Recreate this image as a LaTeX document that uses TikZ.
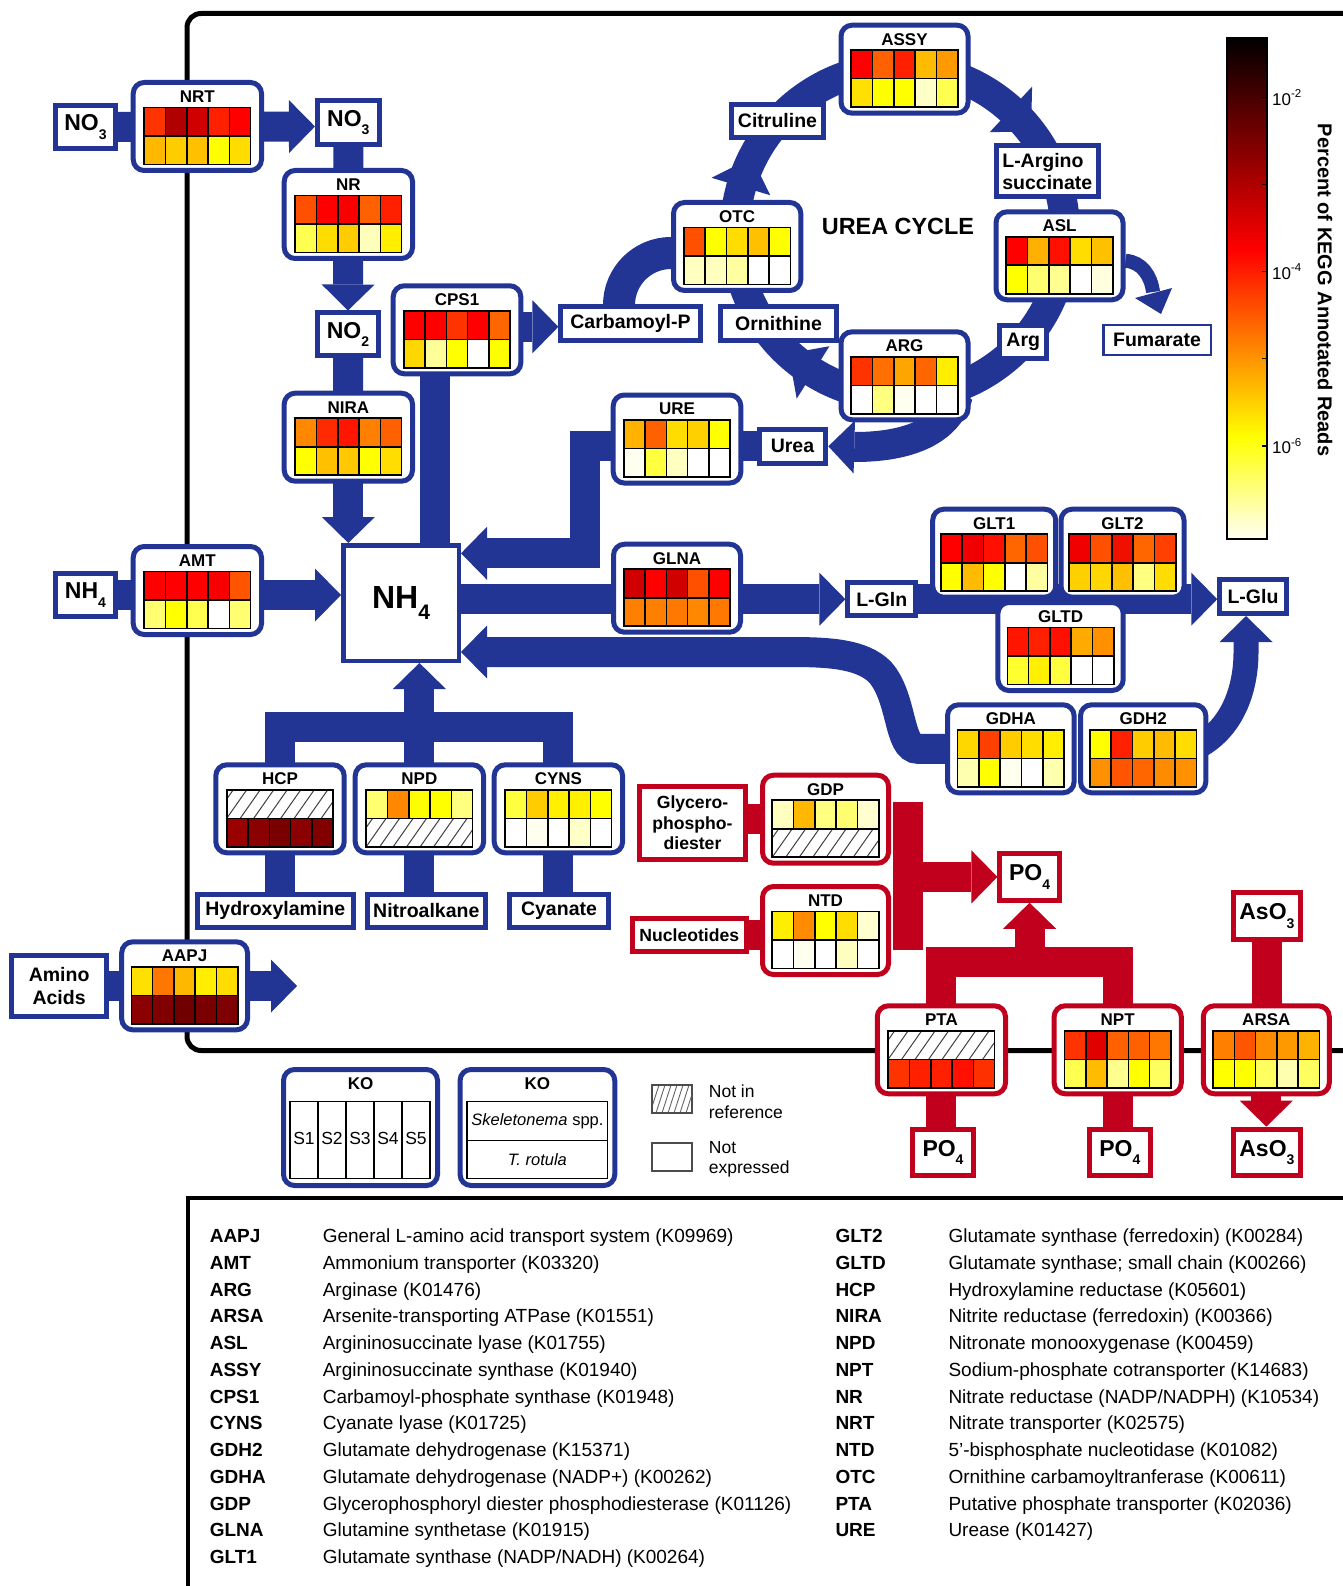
\documentclass[tikz,border=0pt]{standalone}
\usepackage{fontspec}
\setmainfont{Liberation Sans}
\usetikzlibrary{calc,arrows.meta}
\pgfdeclarelayer{bg}
\pgfsetlayers{bg,main}
\definecolor{kblue}{HTML}{223494}
\definecolor{kred}{HTML}{C0001C}
\newcommand{\kfT}{\fontsize{17}{19}\selectfont\bfseries}
\newcommand{\kfS}{\fontsize{19.5}{22.7}\selectfont\bfseries}
\newcommand{\kfM}{\fontsize{23}{25}\selectfont\bfseries}
\newcommand{\kfH}{\fontsize{32}{34}\selectfont\bfseries}
\newcommand{\kfR}{\fontsize{17.6}{20.7}\selectfont\bfseries}
\newcommand{\kfX}{\fontsize{19}{22}\selectfont}
\newcommand{\kfL}{\fontsize{17.5}{20.6}\selectfont}
\newcommand{\kfC}{\fontsize{17}{19}\selectfont}
\newcommand{\ksub}[2][14]{\raisebox{-0.36em}{\fontsize{#1}{#1}\selectfont #2}}
\newcommand{\ksup}[1]{\raisebox{0.45em}{\fontsize{11.5}{11.5}\selectfont #1}}
\def\hatchword{hatch}
\newcommand{\gridrow}[3]{%
  \def\rowspec{#3}%
  \ifx\rowspec\hatchword
    \begin{scope}
      \clip ({#1},{#2}) rectangle ++(106.5,28.5);
      \foreach \kk in {-2,...,8} {\draw[hatchline] ({#1+\kk*13.5},{#2+28.5}) -- ++(20,-28.5);}
    \end{scope}
  \else
    \foreach \cl [count=\ii from 0] in {#3} {%
      \edef\tmpc{\noexpand\definecolor{cc}{HTML}{\cl}}\tmpc
      \fill[cc] ({#1+\ii*21.3},{#2}) rectangle ++(21.3,28.5);
    }%
    \foreach \ii in {1,...,4} {\draw[gridline] ({#1+\ii*21.3},{#2}) -- ++(0,28.5);}%
  \fi
  \draw[gridline] ({#1},{#2}) rectangle ++(106.5,28.5);
}
\newcommand{\enzbox}[8]{%
  \node[ebox, draw=#8, minimum width={#5-5}, minimum height=88] (#1) at ({#3+#5/2},{#4+46.5}) {};
  \node[etitle] (#1t) at ({#3+#5/2},{#4+16.5}) {#2};
  \gridrow{#3+#5/2-53.25}{#4+27.5}{#6}%
  \gridrow{#3+#5/2-53.25}{#4+56}{#7}%
}
\newcommand{\trow}[5]{%
  \node[tabb] (#1a) at (#2,{1242.5+#3*26.75}) {#4};
  \node[tdesc] (#1d) at ({#2+113},{1242.5+#3*26.75}) {#5};
}
\begin{document}
\begin{tikzpicture}[x=1pt,y=-1pt,
  ebox/.style={rectangle, rounded corners=11pt, line width=5pt, fill=white, inner sep=0pt},
  etitle/.style={font=\kfT, inner sep=0pt},
  sbox/.style={rectangle, line width=5pt, fill=white, inner sep=0pt, font=\kfS, align=center},
  gridline/.style={line width=1.6pt, black},
  hatchline/.style={line width=1pt, black!75},
  bband/.style={draw=kblue, line width=30pt},
  rband/.style={draw=kred, line width=30pt},
  ahead/.style={-{Triangle[width=53pt,length=26pt,line width=0pt]}},
  tabb/.style={font=\kfX\bfseries, anchor=base west, inner sep=0pt},
  tdesc/.style={font=\kfX, anchor=base west, inner sep=0pt}]
\useasboundingbox (0,0) rectangle (1342,1586);

% ---------- enzyme boxes ----------
\enzbox{NRT}{NRT}{130.7}{80}{133.3}{FF3300,B00000,D00000,FF2000,FF0000}{FFB800,FFCC00,FFC000,FFFF00,FFDD00}{kblue}
\enzbox{NR}{NR}{281.7}{168}{133.3}{FF5000,FF0000,F80000,FF6000,FF2000}{FFFF50,FFDD00,FFCC00,FFFFBB,FFEE00}{kblue}
\enzbox{CPS1}{CPS1}{390.7}{283.3}{132.6}{FF0000,FF0000,FF3300,FF0000,FF6600}{FFD700,FFFF99,FFFF00,FFFFFF,FFFF00}{kblue}
\enzbox{NIRA}{NIRA}{281.7}{390.7}{133.3}{FF8800,FF2A00,FF1500,FF8000,FF6000}{FFFF00,FFC000,FFC800,FFFF00,FFDD00}{kblue}
\enzbox{AMT}{AMT}{130.7}{544}{133.3}{FF0000,FF0000,FF0000,F80000,FF5500}{FFFF70,FFFF00,FFFF50,FFFFFF,FFFF70}{kblue}
\enzbox{URE}{URE}{610.7}{392.5}{132.6}{FFB300,FF6000,FFDD00,FFD000,FFFF00}{FFFFF0,FFFF40,FFFFC0,FFFFFF,FFFFFF}{kblue}
\enzbox{GLNA}{GLNA}{611}{541.7}{132}{D00000,FF0000,D00000,FF5000,FF0000}{FF8000,FF8000,FF7800,FF8800,FF7800}{kblue}
\enzbox{ASSY}{ASSY}{838.5}{22.7}{132}{FF0000,FF6000,FF2000,FFBB00,FF9900}{FFE000,FFFF00,FFFF00,FFFFC8,FFFF50}{kblue}
\enzbox{OTC}{OTC}{671}{200}{132.3}{FF5000,FFFF00,FFDD00,FFC000,FFFF00}{FFFFC0,FFFFC0,FFFFA0,FFFFFF,FFFFFF}{kblue}
\enzbox{ASL}{ASL}{993.5}{209.3}{132}{FF0000,FFB000,FF1000,FFDD00,FFC000}{FFFF00,FFFF70,FFFF90,FFFFFF,FFFFE0}{kblue}
\enzbox{ARG}{ARG}{838.5}{329.3}{132}{FF3300,FF7000,FFA500,FF6600,FFEE00}{FFFFFF,FFFF80,FFFFF0,FFFFFF,FFFFFF}{kblue}
\enzbox{GLT1}{GLT1}{930.2}{506.7}{128}{FF0000,F00000,FF1000,FF6600,FF5000}{FFFF00,FFBB00,FFFF00,FFFFFF,FFFFA0}{kblue}
\enzbox{GLT2}{GLT2}{1058.5}{506.7}{128}{F00000,FF5000,F01000,FF6600,FF4000}{FFD000,FFD700,FFC000,FFFF80,FFDD00}{kblue}
\enzbox{GLTD}{GLTD}{995.4}{600}{130.3}{FF1500,FF2000,FF1000,FFAA00,FF9000}{FFFF30,FFF000,FFFF40,FFFFFF,FFFFFF}{kblue}
\enzbox{GDHA}{GDHA}{945}{702.3}{131.6}{FFD700,FF4000,FFCC00,FFDD00,FFEE00}{FFFFB0,FFFF00,FFFFF0,FFFFFF,FFFFB0}{kblue}
\enzbox{GDH2}{GDH2}{1078}{702.3}{130.3}{FFFF00,FF2000,FFCC00,FFBB00,FFDD00}{FF9000,FF5500,FF6600,FF8C00,FF9000}{kblue}
\enzbox{HCP}{HCP}{213.3}{762.3}{133.4}{hatch}{990000,8B0000,7A0000,8B0000,800000}{kblue}
\enzbox{NPD}{NPD}{352.7}{762.3}{133.4}{FFFF70,FF8800,FFFF00,FFFF00,FFFF80}{hatch}{kblue}
\enzbox{CYNS}{CYNS}{491.7}{762.3}{133.4}{FFFF40,FFCC00,FFF000,FFF000,FFFF00}{FFFFFF,FFFFF0,FFFFFF,FFFFC8,FFFFFF}{kblue}
\enzbox{AAPJ}{AAPJ}{119.2}{939.3}{130.8}{FFE000,FF7700,FFB800,FFEE00,FFDD00}{8B0000,800000,700000,7A0000,7F0000}{kblue}
\enzbox{GDP}{GDP}{760}{772.7}{131}{FFFFC0,FFB800,FFFF80,FFFF70,FFFFD0}{hatch}{kred}
\enzbox{NTD}{NTD}{760}{884}{131}{FFEE00,FF8C00,FFFF00,FFDD00,FFFFD0}{FFFFFF,FFFFF0,FFFFFF,FFFFC0,FFFFFF}{kred}
\enzbox{PTA}{PTA}{874.8}{1003.3}{133.2}{hatch}{FF3300,FF2000,FF2000,FF1000,FF3000}{kred}
\enzbox{NPT}{NPT}{1051.6}{1003.3}{132.2}{FF3300,E00000,FF6000,FF6000,FF7700}{FFFF50,FFBB00,FFFF90,FFFF00,FFFF60}{kred}
\enzbox{ARSA}{ARSA}{1200.8}{1003.3}{131}{FF8000,FF5500,FF8C00,FF9900,FFB300}{FFFF00,FFFF00,FFFF60,FFFFB0,FFFF60}{kred}

% ---------- substrate boxes ----------
\node[sbox, draw=kblue, font=\kfM, minimum width=60, minimum height=43] (no3a) at (85.5,127) {NO\ksub{3}};
\node[sbox, draw=kblue, font=\kfM, minimum width=61.7, minimum height=43.7] (no3b) at (348.3,122.3) {NO\ksub{3}};
\node[sbox, draw=kblue, font=\kfM, minimum width=61, minimum height=42.8] (no2) at (348,334.4) {NO\ksub{2}};
\node[sbox, draw=kblue, font=\kfM, minimum width=60.6, minimum height=43.6] (nh4a) at (85.5,595) {NH\ksub{4}};
\node[sbox, draw=kblue, line width=4.5pt, font=\kfH, minimum width=115.5, minimum height=115.5] (nh4) at (401,603) {NH\ksub[21]{4}};
\node[sbox, draw=kblue, minimum width=139.2, minimum height=33.7] (carbp) at (630.5,323.3) {Carbamoyl-P};
\node[sbox, draw=kblue, minimum width=116, minimum height=33.7] (orn) at (778.5,323.3) {Ornithine};
\node[sbox, draw=kblue, minimum width=92.6, minimum height=33.3] (citr) at (777.5,120.8) {Citruline};
\node[sbox, draw=kblue, align=left, minimum width=102.5, minimum height=51.2] (largs) at (1047.3,171.4) {L-Argino\\succinate};
\node[sbox, draw=kblue, minimum width=46.7, minimum height=32.4] (argm) at (1023.2,342) {Arg};
\node[sbox, draw=kblue, line width=2.5pt, minimum width=107.5, minimum height=30] (fum) at (1157,339.8) {Fumarate};
\node[sbox, draw=kblue, minimum width=66.6, minimum height=34.3] (urea) at (792.5,446.3) {Urea};
\node[sbox, draw=kblue, minimum width=67.6, minimum height=33.3] (lgln) at (881.7,599.2) {L-Gln};
\node[sbox, draw=kblue, minimum width=66.5, minimum height=33.7] (lglu) at (1253,596.7) {L-Glu};
\node[sbox, draw=kblue, minimum width=155.7, minimum height=33.3] (hyd) at (275.3,910.9) {Hydroxylamine};
\node[sbox, draw=kblue, minimum width=117.7, minimum height=33.3] (nitro) at (426.3,910.9) {Nitroalkane};
\node[sbox, draw=kblue, minimum width=98.4, minimum height=33.3] (cyan) at (559,910.9) {Cyanate};
\node[sbox, draw=kblue, minimum width=94.4, minimum height=61.6] (amino) at (59.1,986) {Amino\\Acids};
\node[sbox, draw=kred, font=\kfR, minimum width=105.2, minimum height=72.7] (glyc) at (692.5,822.9) {Glycero-\\phospho-\\diester};
\node[sbox, draw=kred, font=\kfR, minimum width=113.6, minimum height=33.3] (nucl) at (689.3,935.2) {Nucleotides};
\node[sbox, draw=kred, font=\kfM, minimum width=59.3, minimum height=46.7] (po4) at (1029.6,876.9) {PO\ksub{4}};
\node[sbox, draw=kred, font=\kfM, minimum width=60.6, minimum height=46.6] (po4a) at (943,1152.5) {PO\ksub{4}};
\node[sbox, draw=kred, font=\kfM, minimum width=60.6, minimum height=46.6] (po4b) at (1119.8,1152.5) {PO\ksub{4}};
\node[sbox, draw=kred, font=\kfM, minimum width=67.6, minimum height=46.7] (aso3a) at (1266.9,915.9) {AsO\ksub{3}};
\node[sbox, draw=kred, font=\kfM, minimum width=67.6, minimum height=46.7] (aso3b) at (1266.9,1152.5) {AsO\ksub{3}};

\node[font=\fontsize{23.4}{25}\selectfont\bfseries] (ucl) at (898,226) {UREA CYCLE};

% ---------- colour bar ----------
\shade[top color=black, bottom color=red] (1227,37.5) rectangle (1267,250.5);
\shade[top color=red, bottom color=yellow] (1227,249.5) rectangle (1267,437.5);
\shade[top color=yellow, bottom color=yellow!4] (1227,436.5) rectangle (1267,539);
\draw[line width=1.5pt] (1227,37.5) rectangle (1267,539);
\foreach \ty in {97.3,184.3,271.7,358.3,446} {\draw[line width=1.2pt] (1267,\ty) -- (1262,\ty);}
\node[font=\kfC, anchor=west, inner sep=0pt] (cbt2) at (1272,97.3) {10\ksup{-2}};
\node[font=\kfC, anchor=west, inner sep=0pt] (cbt4) at (1272,271.7) {10\ksup{-4}};
\node[font=\kfC, anchor=west, inner sep=0pt] (cbt6) at (1272,446) {10\ksup{-6}};
\node[rotate=-90, font=\fontsize{20}{22}\selectfont\bfseries] (cbl) at (1325,290) {Percent of KEGG Annotated Reads};

% ---------- legend ----------
\node[ebox, draw=kblue, minimum width=154, minimum height=116] (koa) at (360.5,1127.5) {};
\node[etitle] (koat) at (360.5,1084) {KO};
\draw[line width=1.3pt] (290,1101.7) rectangle (430,1178.3);
\foreach \xx in {318,346,374,402} {\draw[line width=1.3pt] (\xx,1101.7) -- (\xx,1178.3);}
\foreach \s [count=\n from 0] in {S1,S2,S3,S4,S5} {\node[font=\kfL, inner sep=0pt] (kos\n) at ({304+\n*28},1138) {\s};}
\node[ebox, draw=kblue, minimum width=154.7, minimum height=116] (kob) at (537.4,1127.5) {};
\node[etitle] (kobt) at (537.4,1084) {KO};
\draw[line width=1.3pt] (467,1101.7) rectangle (607.7,1178.3);
\draw[line width=1.3pt] (467,1140.7) -- (607.7,1140.7);
\node[font=\fontsize{16.5}{18}\selectfont, inner sep=0pt] (kosk) at (537.4,1121) {\itshape Skeletonema\upshape{} spp.};
\node[font=\fontsize{16.5}{18}\selectfont, inner sep=0pt] (kotr) at (537.4,1160) {\itshape T. rotula};
\node[draw=black!70, line width=1.5pt, minimum width=40, minimum height=28, inner sep=0pt] (lgh) at (672,1099) {};
\begin{scope}
  \clip (652.5,1086.5) rectangle (691.5,1111.5);
  \foreach \kk in {0,...,9} {\draw[black!60, line width=0.9pt] ({644+\kk*6},1113) -- ++(9,-28);}
\end{scope}
\node[draw=black!70, line width=1.5pt, minimum width=40, minimum height=28, inner sep=0pt] (lgn) at (672,1157.2) {};
\node[font=\kfL, align=left, anchor=west, inner sep=0pt] (lght) at (708.7,1102) {Not in\\reference};
\node[font=\kfL, align=left, anchor=west, inner sep=0pt] (lgnt) at (708.7,1159.3) {Not\\expressed};

% ---------- table ----------
\trow{tAAPJ}{209.6}{0}{AAPJ}{General L-amino acid transport system (K09969)}
\trow{tAMT}{209.6}{1}{AMT}{Ammonium transporter (K03320)}
\trow{tARG}{209.6}{2}{ARG}{Arginase (K01476)}
\trow{tARSA}{209.6}{3}{ARSA}{Arsenite-transporting ATPase (K01551)}
\trow{tASL}{209.6}{4}{ASL}{Argininosuccinate lyase (K01755)}
\trow{tASSY}{209.6}{5}{ASSY}{Argininosuccinate synthase (K01940)}
\trow{tCPS}{209.6}{6}{CPS1}{Carbamoyl-phosphate synthase (K01948)}
\trow{tCYNS}{209.6}{7}{CYNS}{Cyanate lyase (K01725)}
\trow{tGDH}{209.6}{8}{GDH2}{Glutamate dehydrogenase (K15371)}
\trow{tGDHA}{209.6}{9}{GDHA}{Glutamate dehydrogenase (NADP+) (K00262)}
\trow{tGDP}{209.6}{10}{GDP}{Glycerophosphoryl diester phosphodiesterase (K01126)}
\trow{tGLNA}{209.6}{11}{GLNA}{Glutamine synthetase (K01915)}
\trow{tGLTa}{209.6}{12}{GLT1}{Glutamate synthase (NADP/NADH) (K00264)}
\trow{tGLTb}{835.3}{0}{GLT2}{Glutamate synthase (ferredoxin) (K00284)}
\trow{tGLTD}{835.3}{1}{GLTD}{Glutamate synthase; small chain (K00266)}
\trow{tHCP}{835.3}{2}{HCP}{Hydroxylamine reductase (K05601)}
\trow{tNIRA}{835.3}{3}{NIRA}{Nitrite reductase (ferredoxin) (K00366)}
\trow{tNPD}{835.3}{4}{NPD}{Nitronate monooxygenase (K00459)}
\trow{tNPT}{835.3}{5}{NPT}{Sodium-phosphate cotransporter (K14683)}
\trow{tNR}{835.3}{6}{NR}{Nitrate reductase (NADP/NADPH) (K10534)}
\trow{tNRT}{835.3}{7}{NRT}{Nitrate transporter (K02575)}
\trow{tNTD}{835.3}{8}{NTD}{5’-bisphosphate nucleotidase (K01082)}
\trow{tOTC}{835.3}{9}{OTC}{Ornithine carbamoyltranferase (K00611)}
\trow{tPTA}{835.3}{10}{PTA}{Putative phosphate transporter (K02036)}
\trow{tURE}{835.3}{11}{URE}{Urease (K01427)}

% ---------- connectors (behind) ----------
\begin{pgfonlayer}{bg}
\fill[white] (0,0) rectangle (1342,1586);
\draw[line width=5pt, rounded corners=14pt] (1360,13.5) -- (187,13.5) -- (187,1050.5) -- (1360,1050.5);
\draw[line width=4pt] (1360,1197.5) -- (188,1197.5) -- (188,1600);

\draw[bband, ahead] (no3a.center) -- (NRT.center -| no3b.west);
\draw[bband] (no3b.center) -- (NR.center);
\draw[bband, ahead] (NR.center) -- (no2.north);
\draw[bband] (no2.center) -- (NIRA.center);
\draw[bband, ahead] (NIRA.center) -- (NIRA.center |- nh4.north);
\draw[bband] ([xshift=-22.3pt]CPS1.center) -- ([xshift=-22.3pt]CPS1.center |- nh4.center);
\draw[bband, ahead] ([yshift=3pt]CPS1.center) -- ([yshift=3pt]CPS1.center -| carbp.west);
\coordinate (cpa) at (619,312);
\coordinate (cpb) at (676,253);
\draw[draw=kblue, line width=32pt] (cpa) -- (619,305) .. controls (619,276.3) and (642.3,253) .. (671,253) -- (cpb);
\coordinate (uc) at (900,232);
\draw[kblue, line width=30pt] (uc) circle (165pt);
\fill[kblue] (1032.1,86.6) -- (1031.0,131.4) -- (989.7,132.2) -- cycle;
\fill[kblue] (711.5,177.8) -- (751.7,157.7) -- (770.3,195.2) -- cycle;
\fill[kblue] (796.7,398.7) -- (788.6,353.6) -- (829.4,346.2) -- cycle;
\draw[kblue, line width=14pt] ([yshift=-5pt]ASL.east) .. controls (1142,262) and (1151,276) .. (1153,292);
\fill[kblue] (1135,298) -- (1172,288) -- (1161,314) -- cycle;
\coordinate (ureas) at (958,395);
\draw[bband, ahead] (ureas) .. controls (945,440) and (890,447) .. (855,447) -- (urea.east);
\draw[bband] (URE.center |- urea.center) -- (urea.center);
\coordinate (ub1) at (585,446.3);
\coordinate (ub2) at (585,553.3);
\draw[bband, ahead] (URE.center |- urea.center) -- (ub1) -- (ub2) -- (ub2 -| nh4.east);
\draw[bband, ahead] (nh4a.center) -- (nh4a.center -| nh4.west);
\draw[bband, ahead] (nh4.center |- lgln.center) -- (lgln.west);
\draw[bband, ahead] (lgln.center) -- (lgln.center -| lglu.west);
\coordinate (gdend) at (470,652);
\draw[bband, ahead] (GDHA.center) -- (918,748.8) .. controls (898,748.8) and (903,698) .. (880,672) .. controls (862,654) and (830,652) .. (790,652) -- (gdend -| nh4.east);
\coordinate (g2s) at (1195,748);
\coordinate (gluin) at (1246,616);
\draw[kblue, line width=25pt, ahead] (g2s) .. controls (1232,730) and (1246,690) .. (1246,652) -- (gluin);
\coordinate (tj) at (420,727);
\draw[bband] (HCP.center) -- (HCP.center |- tj) -- (CYNS.center |- tj) -- (CYNS.center);
\draw[bband, ahead] (NPD.center) -- (NPD.center |- nh4.south);
\draw[bband] (HCP.center |- hyd.center) -- (HCP.center);
\draw[bband] (NPD.center |- nitro.center) -- (NPD.center);
\draw[bband] (CYNS.center |- cyan.center) -- (CYNS.center);
\coordinate (aaout) at (297,987.5);
\draw[bband, ahead] (amino.center) -- (amino.center -| aaout);

\draw[rband] (glyc.center |- GDP.center) -- (GDP.center);
\draw[rband] (nucl.center) -- (nucl.center -| NTD.center);
\coordinate (rbt) at (908,801.7);
\coordinate (rbb) at (908,950);
\draw[rband] (rbt) -- (rbb);
\draw[rband, ahead] (rbt |- po4.west) -- (po4.west);
\coordinate (pj) at (1030,961.7);
\draw[rband] (PTA.center) -- (PTA.center |- pj) -- (NPT.center |- pj) -- (NPT.center);
\draw[rband, ahead] (po4.south |- pj) -- (po4.south);
\draw[rband] (PTA.center) -- (PTA.center |- po4a.center);
\draw[rband] (NPT.center) -- (NPT.center |- po4b.center);
\draw[rband] (aso3a.center) -- (aso3a.center |- ARSA.center);
\draw[rband, ahead] (ARSA.center) -- (ARSA.center |- aso3b.north);
\end{pgfonlayer}
\end{tikzpicture}
\end{document}
